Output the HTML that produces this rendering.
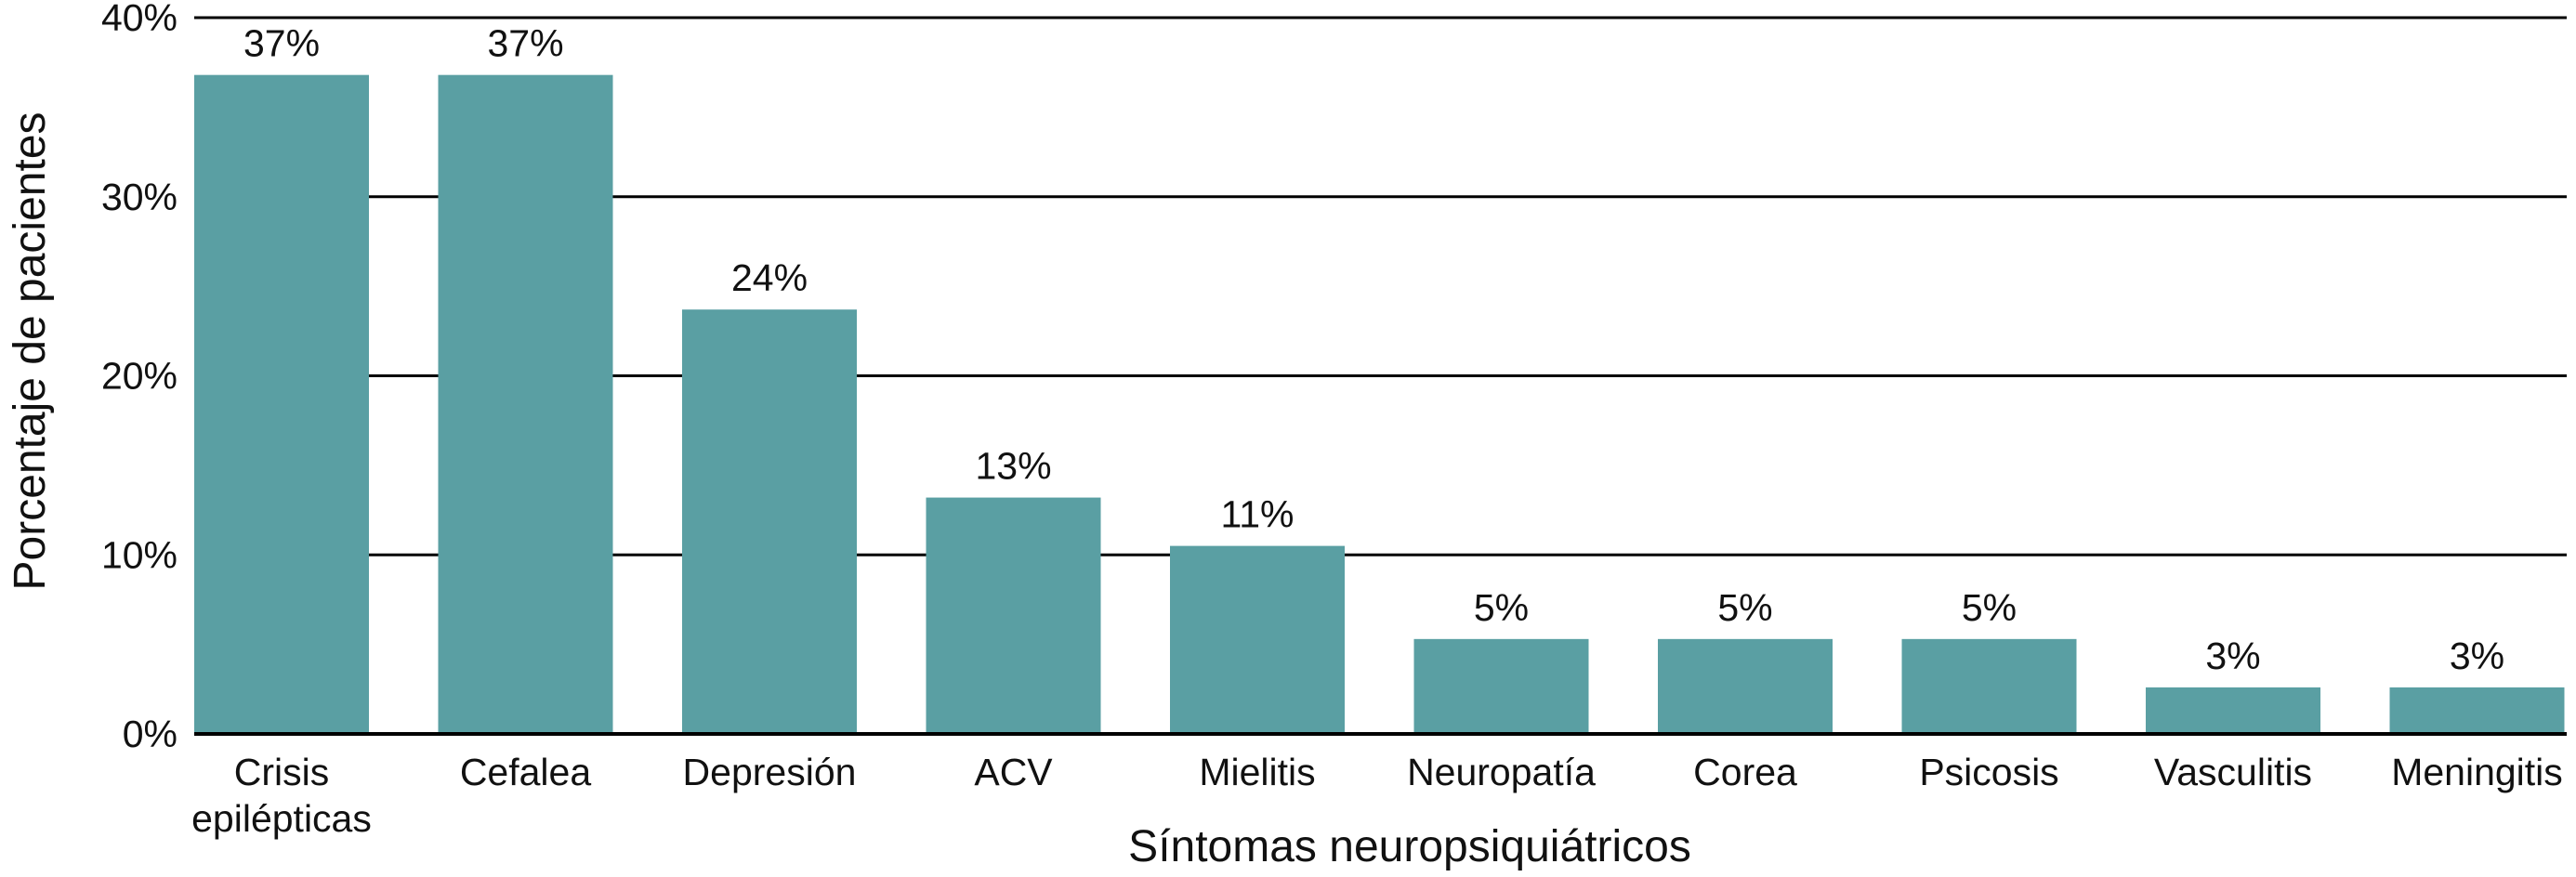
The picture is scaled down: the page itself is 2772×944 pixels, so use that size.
<!DOCTYPE html>
<html><head><meta charset="utf-8"><style>
body{margin:0;background:#fff}
svg text{font-family:"Liberation Sans",sans-serif;fill:#111}
</style></head><body>
<svg id="chart" width="2772" height="939" viewBox="0 0 2772 939" xmlns="http://www.w3.org/2000/svg">
<g id="grid"></g><g id="bars"></g><g id="labels"></g>
<text transform="translate(48,378) rotate(-90)" text-anchor="middle" font-size="48">Porcentaje de pacientes</text>
<text x="1517" y="927" text-anchor="middle" font-size="48">Síntomas neuropsiquiátricos</text>
</svg>
<script>
const categories=["Crisis|epilépticas","Cefalea","Depresión","ACV","Mielitis","Neuropatía","Corea","Psicosis","Vasculitis","Meningitis"];
const values=[36.8,36.8,23.7,13.2,10.5,5.3,5.3,5.3,2.6,2.6];
const valueLabels=["37%","37%","24%","13%","11%","5%","5%","5%","3%","3%"];
const yTicks=[0,10,20,30,40];
const yTickLabels=["0%","10%","20%","30%","40%"];
const NS="http://www.w3.org/2000/svg";
const L=209,R=2762,Y0=790,Y40=19,pitch=262.5,bw=188;
const y=v=>Y0-(v/40)*(Y0-Y40);
const x=i=>L+i*pitch;
function mk(t,a,p){const e=document.createElementNS(NS,t);for(const k in a)e.setAttribute(k,a[k]);p.appendChild(e);return e;}
const grid=document.getElementById('grid'),bars=document.getElementById('bars'),labels=document.getElementById('labels');
yTicks.forEach((t,i)=>{
  const ln=mk('line',{x1:L,x2:R,y1:y(t),y2:y(t),stroke:'#000','stroke-width':t===0?4:3},grid);
  
  
  const tx=mk('text',{x:191,y:y(t)+14,'text-anchor':'end','font-size':41},grid);
  tx.textContent=yTickLabels[i];
  
  
});
values.forEach((v,i)=>{
  const r=mk('rect',{x:x(i),y:y(v),width:bw,height:Y0-2-y(v),fill:'#5a9fa3'},bars);
  
  
  const vl=mk('text',{x:x(i)+bw/2,y:y(v)-20,'text-anchor':'middle','font-size':41},labels);
  vl.textContent=valueLabels[i];
  
  
  categories[i].split('|').forEach((s,j)=>{
    const c=mk('text',{x:x(i)+bw/2,y:845+j*50,'text-anchor':'middle','font-size':41},labels);
    c.textContent=s;
    
    
  });
});
</script>
</body></html>
